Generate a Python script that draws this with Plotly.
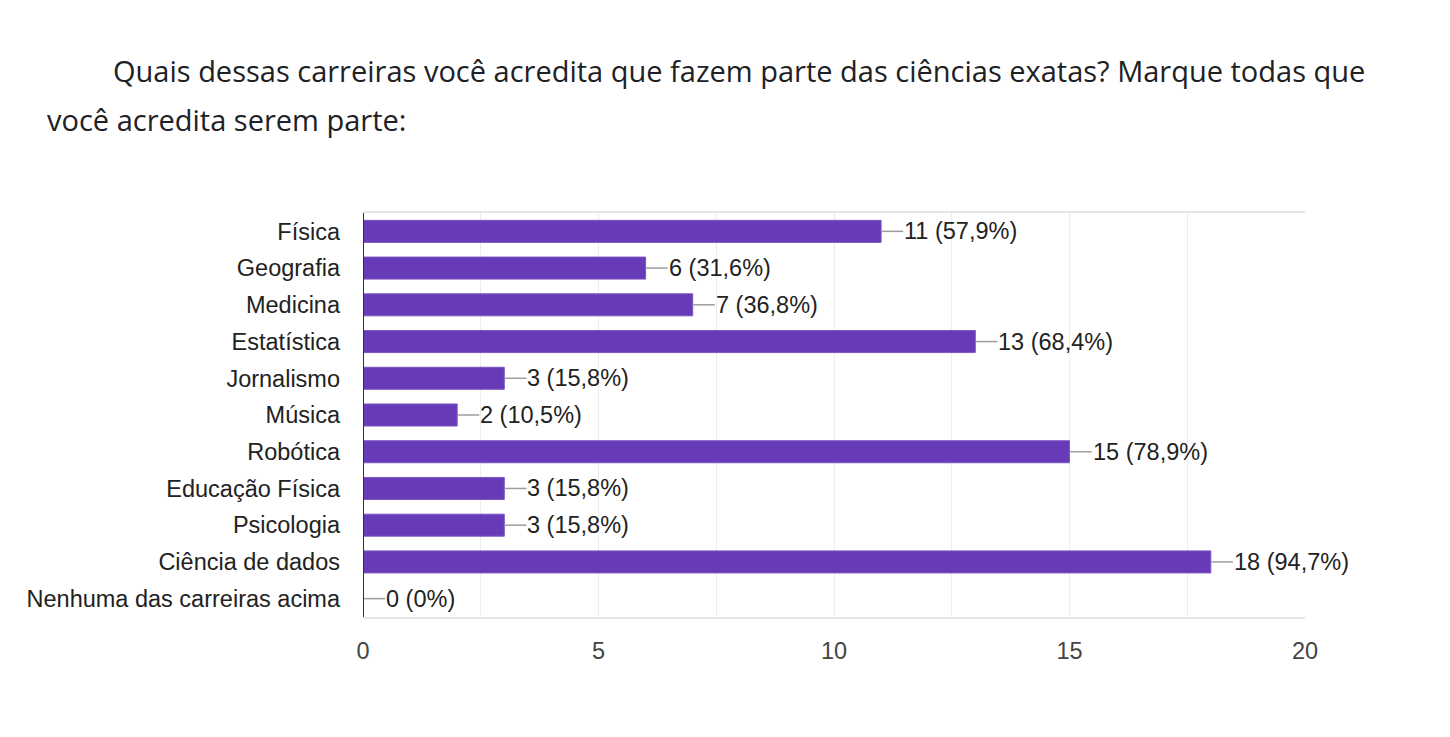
import plotly.graph_objects as go

categories = ["Física", "Geografia", "Medicina", "Estatística", "Jornalismo", "Música",
              "Robótica", "Educação Física", "Psicologia", "Ciência de dados",
              "Nenhuma das carreiras acima"]
counts = [11, 6, 7, 13, 3, 2, 15, 3, 3, 18, 0]
percent_labels = ["57,9%", "31,6%", "36,8%", "68,4%", "15,8%", "10,5%",
                  "78,9%", "15,8%", "15,8%", "94,7%", "0%"]
x_ticks = [0, 5, 10, 15, 20]

title_line1 = "Quais dessas carreiras você acredita que fazem parte das ciências exatas? Marque todas que"
title_line2 = "você acredita serem parte:"

BAR_COLOR = "#673ab7"
FONT = "Liberation Sans, Arial, sans-serif"
TITLE_FONT = "Open Sans, sans-serif"
FS = 23.5
TFS = 29

# figure size (page body adds an 8px offset)
W, H = 1442, 729
L, R, T, B = 355, 145, 205, 120
PW, PH = W - L - R, H - T - B


def px_to_paper_x(px):
    return (px - 8 - L) / PW


def px_to_paper_y(py):
    return (H - B - (py - 8)) / PH


fig = go.Figure()
fig.add_trace(go.Bar(
    x=counts, y=categories, orientation="h",
    marker=dict(color=BAR_COLOR, line=dict(color="#7e57c2", width=1)),
    width=0.6, hoverinfo="skip",
))

lead = 0.47
for cat, v, p in zip(categories, counts, percent_labels):
    fig.add_shape(type="line", xref="x", yref="y", x0=v, x1=v + lead, y0=cat, y1=cat,
                  line=dict(color="#9e9e9e", width=1.5))
    fig.add_annotation(x=v + lead, y=cat, xref="x", yref="y", text=f"{v} ({p})",
                       showarrow=False, xanchor="left", xshift=-1,
                       font=dict(family=FONT, size=FS, color="#222222"))

fig.update_xaxes(
    range=[0, 20], tickvals=x_ticks, ticktext=[str(t) for t in x_ticks],
    showgrid=True, gridcolor="#ececec", gridwidth=1,
    minor=dict(dtick=2.5, showgrid=True, gridcolor="#ececec"),
    tickfont=dict(family=FONT, size=FS, color="#444444"),
    zeroline=False, showline=True, linecolor="#e6e6e6", linewidth=2, mirror=True,
    ticks="", ticklabelstandoff=12, fixedrange=True,
)
fig.update_yaxes(
    autorange="reversed", tickfont=dict(family=FONT, size=FS, color="#222222"),
    showline=False, showgrid=False, ticks="", ticklabelstandoff=22, fixedrange=True,
)
fig.add_shape(type="line", xref="x", yref="paper", x0=0, x1=0, y0=0, y1=1,
              line=dict(color="#333333", width=2))

fig.add_annotation(text=title_line1, xref="paper", yref="paper",
                   x=px_to_paper_x(111), y=px_to_paper_y(71),
                   xanchor="left", yanchor="middle", showarrow=False,
                   font=dict(family=TITLE_FONT, size=TFS, color="#202124"))
fig.add_annotation(text=title_line2, xref="paper", yref="paper",
                   x=px_to_paper_x(45), y=px_to_paper_y(119),
                   xanchor="left", yanchor="middle", showarrow=False,
                   font=dict(family=TITLE_FONT, size=TFS, color="#202124"))

fig.update_layout(
    width=W, height=H,
    margin=dict(l=L, r=R, t=T, b=B, autoexpand=False),
    plot_bgcolor="white", paper_bgcolor="white",
    bargap=0.4, showlegend=False,
)

fig.write_html("out.html")
